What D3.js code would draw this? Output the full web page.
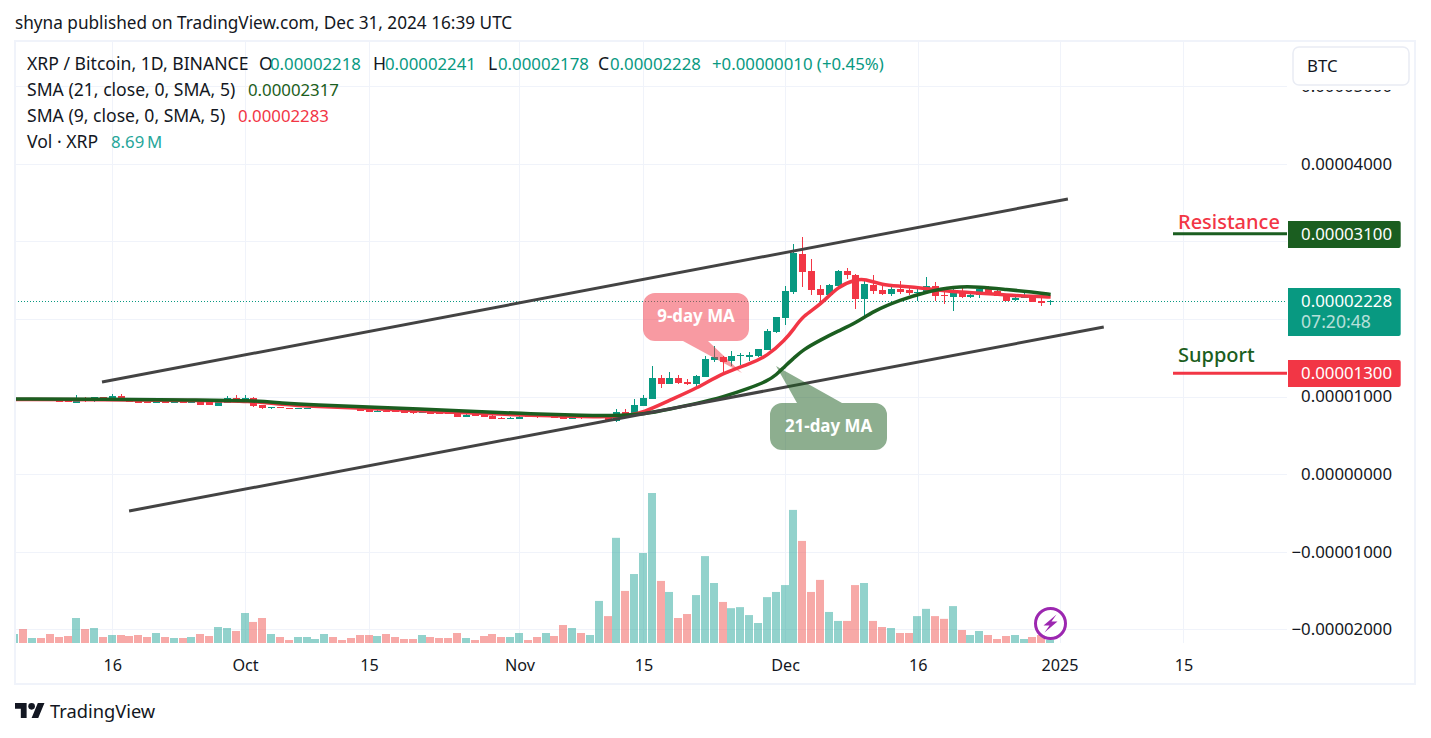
<!DOCTYPE html>
<html>
<head>
<meta charset="utf-8">
<script src="https://cdn.jsdelivr.net/npm/d3@7"></script>
<style>
  html, body { margin: 0; padding: 0; background: #fff; }
  svg { display: block; }
  text { font-family: "Noto Sans", sans-serif; fill: #131722; }
</style>
</head>
<body>
<div id="chart"></div>
<script>
// prices are in satoshi (1e-8 BTC), one entry per day starting at firstDay
const firstDay = "2024-09-05"
const open = [963,969,963,969,969,943,943,918,982,937,995,960,1011,969,943,930,918,943,921,934,921,927,927,883,918,986,952,986,892,853,862,853,844,844,853,866,879,866,860,849,840,810,816,840,814,810,789,805,798,802,789,741,785,776,754,728,722,711,750,744,737,750,750,715,737,724,724,737,686,802,750,879,969,1240,1162,1240,1188,1162,1253,1472,1510,1459,1523,1510,1523,1601,1833,2013,2348,2838,2619,2387,2309,2425,2619,2567,2258,2438,2374,2322,2387,2374,2342,2335,2425,2312,2284,2348,2284,2309,2387,2361,2309,2245,2271,2297,2232,2218]
const high = [975,975,975,978,972,948,948,1021,1000,998,998,1033,1033,972,945,933,969,960,937,937,934,930,930,952,1008,1021,1021,990,895,870,865,856,858,858,873,890,882,870,865,852,843,825,822,845,818,815,842,810,802,806,793,785,790,780,758,732,732,759,755,750,763,754,754,776,742,750,776,740,840,840,969,1021,1394,1278,1317,1278,1227,1278,1523,1652,1523,1588,1562,1575,1614,1871,2026,2425,2967,3057,2773,2438,2451,2632,2657,2580,2503,2567,2464,2451,2490,2400,2425,2541,2477,2374,2400,2413,2361,2425,2425,2374,2322,2309,2335,2310,2271,2241]
const low = [958,960,958,960,940,928,928,915,935,935,958,958,958,932,915,925,915,915,918,918,918,889,889,880,915,958,950,870,840,845,850,840,840,842,850,864,858,850,848,815,800,805,808,798,786,782,786,773,773,775,738,738,752,738,708,720,718,708,735,728,735,726,713,712,715,720,722,687,673,748,748,879,966,1111,1160,1162,1150,1124,1250,1446,1317,1394,1407,1459,1510,1598,1820,1923,2322,2413,2309,2193,2309,2425,2516,2129,2013,2322,2309,2297,2322,2309,2232,2335,2232,2193,2103,2271,2271,2271,2309,2297,2232,2232,2271,2219,2167,2178]
const close = [969,963,969,963,943,932,932,980,937,995,960,1011,960,935,918,927,952,918,934,921,930,892,892,927,978,960,978,883,857,862,853,844,853,853,870,883,860,853,850,818,802,816,810,800,789,785,823,776,776,778,741,767,754,741,711,722,728,737,737,731,750,728,715,733,718,731,750,690,798,750,892,982,1240,1162,1240,1175,1166,1266,1485,1510,1446,1523,1536,1536,1614,1846,2026,2361,2851,2606,2374,2309,2438,2619,2567,2258,2451,2361,2322,2387,2348,2335,2348,2425,2297,2306,2335,2284,2309,2387,2322,2297,2232,2271,2297,2219,2206,2228]
// volume in millions of XRP
const volume = [26.1,40.6,14.5,14.5,26.1,17.4,20.3,72.5,40.6,43.5,17.4,23.2,23.2,20.3,23.2,17.4,29,17.4,14.5,14.5,17.4,26.1,20.3,46.4,43.5,34.8,87,61,72.5,26.1,17.4,8.7,17.4,17.4,11.6,26.1,17.4,8.7,14.5,23.2,23.2,20.3,26.1,17.4,11.6,11.6,23.2,17.4,14.5,14.5,29,14.5,8.7,20.3,26.1,17.4,17.4,29,8.7,17.4,29,20.3,52.2,43.5,29,23.2,122,78,305,151,200,261,435,180,148,72.5,84,139,252,174,119,101,104,81,58,133,148,168,386,296,148,183,90,64,64,168,174,64,46.4,43.5,29,29,78,99,78,70,107,37.7,23.2,34.8,23.2,11.6,20.3,23.2,11.6,17.4,23.2,8.69]

// moving averages at these day indexes
const sma21Days = [0,10,20,27,30,34,40,50,57,65,67,69,71,74,77,80,83,85,86,87,88,89,91,93,95,97,100,103,106,109,112,115,117]
const sma21 = [969,969,956,950,918,892,866,821,782,756,756,764,772,840,911,995,1111,1201,1278,1394,1497,1601,1730,1845,1949,2103,2245,2352,2419,2416,2380,2348,2317]
const sma9Days = [0,10,20,27,30,34,40,50,57,65,67,69,71,74,77,80,83,85,87,88,89,91,93,95,96,98,100,103,106,109,112,115,117]
const sma9 = [963,963,950,943,898,872,847,795,763,737,744,750,793,956,1104,1308,1420,1523,1730,1871,2039,2181,2425,2509,2516,2438,2425,2393,2348,2335,2309,2290,2283]

const priceTicks = [5000,4000,3000,2000,1000,0,-1000,-2000]
const priceLabelTicks = [5000,4000,1000,0,-1000,-2000]
const timeTicks = ["2024-09-16","2024-10-01","2024-10-15","2024-11-01","2024-11-15","2024-12-01","2024-12-16","2025-01-01","2025-01-15"]
const timeLabels = ["16","Oct","15","Nov","15","Dec","16","2025","15"]

// channel lines as [day index, price]
const upperChannel = [[9.84,1188],[118.95,3547]]
const lowerChannel = [[12.9,-474],[123,1897]]
const resistance = 3100
const support = 1300
const lastPrice = 2228

const green = "#089981", red = "#f23645", darkGreen = "#1b5e20", maGreen = "#1b5e20"
const W = 1431, H = 738
const pane = { left: 15, right: 1287, top: 42, bottom: 643 }

const day0 = new Date(firstDay + "T00:00:00Z")
const dayMs = 86400000
const dateOf = i => new Date(day0.getTime() + i * dayMs)

const x = d3.scaleUtc().domain([day0, dateOf(118)]).range([14.9, 1059.5])
const y = d3.scaleLinear().domain([0, 4000]).range([474.2, 163.8])
const yVol = d3.scaleLinear().domain([0, 435]).range([643, 493])

const svg = d3.select("#chart").append("svg").attr("width", W).attr("height", H)
svg.append("rect").attr("width", W).attr("height", H).attr("fill", "#fff")

svg.append("defs").append("clipPath").attr("id", "pane").append("rect")
  .attr("x", pane.left).attr("y", pane.top)
  .attr("width", pane.right - pane.left).attr("height", pane.bottom - pane.top)

// header
svg.append("text").attr("x", 15).attr("y", 29).attr("font-size", 17.2)
  .text("shyna published on TradingView.com, Dec 31, 2024 16:39 UTC")

// grid
const grid = svg.append("g").attr("stroke", "#f0f3fa").attr("stroke-width", 1)
grid.selectAll(".h").data(priceTicks).join("line")
  .attr("x1", pane.left).attr("x2", pane.right)
  .attr("y1", d => Math.round(y(d)) + .5).attr("y2", d => Math.round(y(d)) + .5)
grid.selectAll(".v").data(timeTicks).join("line")
  .attr("x1", d => Math.round(x(new Date(d + "T00:00:00Z"))) + .5)
  .attr("x2", d => Math.round(x(new Date(d + "T00:00:00Z"))) + .5)
  .attr("y1", pane.top).attr("y2", pane.bottom)

const plot = svg.append("g").attr("clip-path", "url(#pane)")

// volume
plot.append("g").selectAll("rect").data(volume).join("rect")
  .attr("x", (d, i) => Math.floor(x(dateOf(i))) - 4)
  .attr("width", 8)
  .attr("y", d => yVol(d))
  .attr("height", d => 643 - yVol(d))
  .attr("fill", (d, i) => close[i] >= open[i] ? "#26a69a" : "#ef5350")
  .attr("fill-opacity", .5)

// last price line
plot.append("line").attr("x1", pane.left).attr("x2", pane.right)
  .attr("y1", Math.floor(y(lastPrice)) + .5).attr("y2", Math.floor(y(lastPrice)) + .5)
  .attr("stroke", green).attr("stroke-dasharray", "1 2")

// candles
const candles = plot.append("g").selectAll("g").data(d3.range(open.length)).join("g")
  .attr("fill", i => close[i] >= open[i] ? green : red)
candles.append("rect")
  .attr("x", i => Math.floor(x(dateOf(i))))
  .attr("width", 1)
  .attr("y", i => Math.round(y(high[i])))
  .attr("height", i => Math.max(1, Math.round(y(low[i])) - Math.round(y(high[i]))))
candles.append("rect")
  .attr("x", i => Math.floor(x(dateOf(i))) - 3)
  .attr("width", 7)
  .attr("y", i => Math.round(y(Math.max(open[i], close[i]))))
  .attr("height", i => Math.max(1, Math.round(y(Math.min(open[i], close[i]))) - Math.round(y(Math.max(open[i], close[i])))))

// moving averages
const maLine = (days, vals) => d3.line()
  .x((d, i) => x(dateOf(days[i])))
  .y(d => y(d))
  .curve(d3.curveBasis)(vals)
plot.append("path").attr("d", maLine(sma9Days, sma9)).attr("fill", "none")
  .attr("stroke", red).attr("stroke-width", 3.5).attr("stroke-linejoin", "round")
plot.append("path").attr("d", maLine(sma21Days, sma21)).attr("fill", "none")
  .attr("stroke", maGreen).attr("stroke-width", 3.5).attr("stroke-linejoin", "round")

// channel lines
const chan = d3.line().x(d => x(dateOf(d[0]))).y(d => y(d[1]))
plot.selectAll(".chan").data([upperChannel, lowerChannel]).join("path")
  .attr("d", chan).attr("fill", "none").attr("stroke", "#434343").attr("stroke-width", 3)

// resistance / support drawings
const levels = [
  { v: resistance, c: darkGreen, label: "Resistance", lc: red, ly: 229 },
  { v: support, c: red, label: "Support", lc: darkGreen, ly: 362 }
]
levels.forEach(l => {
  plot.append("line").attr("x1", 1173).attr("x2", pane.right)
    .attr("y1", y(l.v)).attr("y2", y(l.v))
    .attr("stroke", l.c).attr("stroke-width", 3)
  svg.append("text").attr("x", 1178).attr("y", l.ly).attr("font-size", 20)
    .style("fill", l.lc).attr("font-weight", 500).text(l.label)
})

// callouts
function callout(box, tail, fill, label) {
  const g = svg.append("g").attr("fill", fill).attr("fill-opacity", .5)
  const p = d3.path()
  const r = 12
  p.moveTo(box.x + r, box.y)
  p.arcTo(box.x + box.w, box.y, box.x + box.w, box.y + box.h, r)
  p.arcTo(box.x + box.w, box.y + box.h, box.x, box.y + box.h, r)
  if (tail.side === "bottom") {
    p.lineTo(tail.b, box.y + box.h)
    p.lineTo(tail.x, tail.y)
    p.lineTo(tail.a, box.y + box.h)
  }
  p.arcTo(box.x, box.y + box.h, box.x, box.y, r)
  p.arcTo(box.x, box.y, box.x + box.w, box.y, r)
  if (tail.side === "top") {
    p.lineTo(tail.a, box.y)
    p.lineTo(tail.x, tail.y)
    p.lineTo(tail.b, box.y)
  }
  p.closePath()
  g.append("path").attr("d", p.toString())
  svg.append("text").attr("x", box.x + box.w / 2).attr("y", box.y + box.h / 2 + 5)
    .attr("text-anchor", "middle").attr("font-size", 16.9).attr("font-weight", 700)
    .style("fill", "#fff").text(label)
}
callout({ x: 643, y: 293, w: 106, h: 48 }, { side: "bottom", a: 683, b: 708, x: 742, y: 373 }, red, "9-day MA")
callout({ x: 770, y: 403, w: 117, h: 47 }, { side: "top", a: 797, b: 842, x: 776, y: 366 }, darkGreen, "21-day MA")

// lightning badge
const badge = svg.append("g").attr("transform", "translate(1050.5,623.5)")
badge.append("circle").attr("r", 15).attr("fill", "#fff").attr("fill-opacity", .75)
  .attr("stroke", "#9c27b0").attr("stroke-width", 3)
badge.append("path").attr("d", "M6 -9 L-7 2 L-1 2 L-6 9 L7 -2 L1 -2 Z").attr("fill", "#9c27b0")

// price axis
const yAxis = d3.axisRight(y).tickValues(priceLabelTicks).tickSize(0).tickPadding(0)
  .tickFormat(d => (d < 0 ? "\u2212" : "") + (Math.abs(d) / 1e8).toFixed(8))
const yG = svg.append("g").attr("transform", "translate(1392,0)").call(yAxis)
yG.select(".domain").remove()
yG.selectAll("text").attr("text-anchor", "end").attr("x", 0)
  .attr("font-family", "Noto Sans").attr("font-size", 16.8).style("fill", "#131722")

// time axis
const xAxis = d3.axisBottom(x).tickValues(timeTicks.map(d => new Date(d + "T00:00:00Z")))
  .tickSize(0).tickPadding(0).tickFormat((d, i) => timeLabels[i])
const xG = svg.append("g").attr("transform", "translate(0,659)").call(xAxis)
xG.select(".domain").remove()
xG.selectAll("text").attr("font-family", "Noto Sans").attr("font-size", 16.2).style("fill", "#131722")

// price boxes
function priceBox(yTop, h, fill, label, sub) {
  svg.append("path")
    .attr("d", `M1288 ${yTop}H1398.7a2 2 0 0 1 2 2V${yTop + h - 2}a2 2 0 0 1 -2 2H1288Z`)
    .attr("fill", fill)
  svg.append("text").attr("x", 1392).attr("y", yTop + 19).attr("text-anchor", "end")
    .attr("font-size", 16.8).style("fill", "#fff").text(label)
  if (sub) svg.append("text").attr("x", 1301).attr("y", yTop + 40)
    .attr("font-size", 17.6).style("fill", "#fff").style("opacity", .7).text(sub)
}
priceBox(221, 27, darkGreen, (resistance / 1e8).toFixed(8))
priceBox(288, 48, green, (lastPrice / 1e8).toFixed(8), "07:20:48")
priceBox(360, 27, red, (support / 1e8).toFixed(8))

// currency button sits on top of the clipped top tick
svg.append("rect").attr("x", 1287).attr("y", 43).attr("width", 127).attr("height", 47).attr("fill", "#fff")
svg.append("rect").attr("x", 1293).attr("y", 47).attr("width", 116).attr("height", 38).attr("rx", 6)
  .attr("fill", "#fff").attr("stroke", "#e9ecf4").attr("stroke-width", 1.5)
svg.append("text").attr("x", 1307).attr("y", 72).attr("font-size", 16.8).text("BTC")

// frame
svg.append("rect").attr("x", 15).attr("y", 41).attr("width", 1400).attr("height", 643)
  .attr("fill", "none").attr("stroke", "#f0f3fa").attr("stroke-width", 2)

// legend rows
const labelSize = 17.6, valueSize = 16.8
function legendRow(yPos, parts) {
  parts.forEach(p => {
    svg.append("text").attr("x", p[0]).attr("y", yPos).attr("font-size", p[2] ? valueSize : labelSize)
      .style("fill", p[2] || "#131722").text(p[1])
  })
}
const fmt = v => (v / 1e8).toFixed(8)
const n = open.length - 1
legendRow(70, [[27, "XRP / Bitcoin, 1D, BINANCE"], [259, "O"], [270, fmt(open[n]), green], [373, "H"], [385, fmt(high[n]), green],
  [488, "L"], [498, fmt(low[n]), green], [598, "C"], [610, fmt(close[n]), green], [712, "+0.00000010 (+0.45%)", green]])
legendRow(96, [[27, "SMA (21, close, 0, SMA, 5)"], [248, fmt(sma21[sma21.length - 1]), darkGreen]])
legendRow(122, [[27, "SMA (9, close, 0, SMA, 5)"], [238, fmt(sma9[sma9.length - 1]), red]])
legendRow(148, [[27, "Vol \u00b7 XRP"], [111, "8.69\u2009M", "#26a69a"]])

// logo
const logo = svg.append("g").attr("transform", "translate(15,699.7) scale(.83)").attr("fill", "#131722")
logo.append("path").attr("d", "M14 22H7V11H0V4h14v18zM28 22h-8l7.5-18h8L28 22z")
logo.append("circle").attr("cx", 20).attr("cy", 8).attr("r", 4)
svg.append("text").attr("x", 50).attr("y", 718).attr("font-size", 18.3).text("TradingView")
</script>
</body>
</html>
